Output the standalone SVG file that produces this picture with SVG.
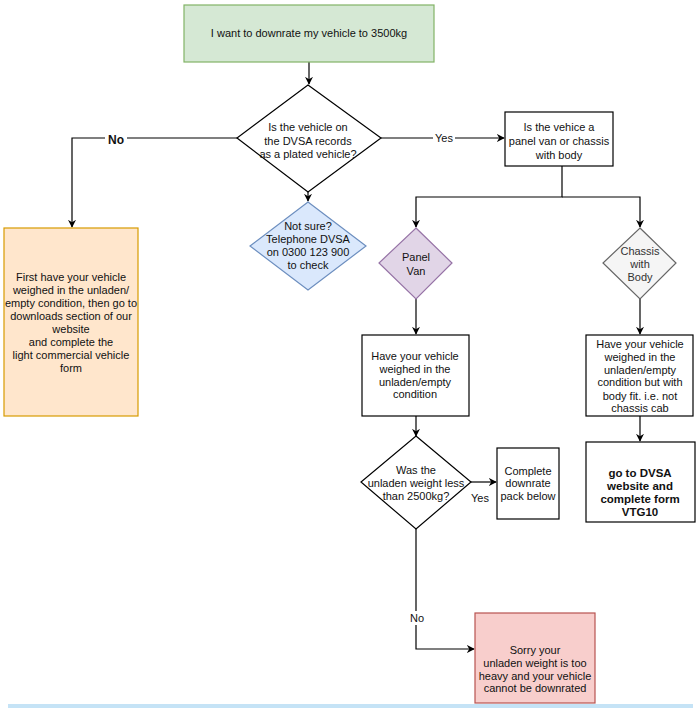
<svg xmlns="http://www.w3.org/2000/svg" width="698" height="709" viewBox="0 0 698 709">
<defs>
<marker id="ah" viewBox="0 0 10 10" refX="9" refY="5" markerWidth="8" markerHeight="8" markerUnits="userSpaceOnUse" orient="auto">
<path d="M0,0 L10,5 L0,10 L3,5 Z" fill="#000"/>
</marker>
<style>
text{font-family:"Liberation Sans",Arial,sans-serif;font-size:11px;fill:#111;text-anchor:middle}
.b{font-weight:bold;font-size:11.5px}
.c{stroke:#000;stroke-width:1.2;fill:none}
.w{fill:#fff;stroke:#000;stroke-width:1.2}
</style>
</defs>
<rect width="698" height="709" fill="#fff"/>
<g id="connectors">
<path class="c" d="M309,62 V84" marker-end="url(#ah)"/>
<path class="c" d="M237,138 H72 V227" marker-end="url(#ah)"/>
<path class="c" d="M381,138 H504" marker-end="url(#ah)"/>
<path class="c" d="M308,192 V201" marker-end="url(#ah)"/>
<path class="c" d="M562,166 V197 H416 V227" marker-end="url(#ah)"/>
<path class="c" d="M562,197 H640 V227" marker-end="url(#ah)"/>
<path class="c" d="M416,299 V334" marker-end="url(#ah)"/>
<path class="c" d="M640,299 V334" marker-end="url(#ah)"/>
<path class="c" d="M416,416 V436" marker-end="url(#ah)"/>
<path class="c" d="M640,416 V441" marker-end="url(#ah)"/>
<path class="c" d="M471,482 H496" marker-end="url(#ah)"/>
<path class="c" d="M416,529 V649 H474" marker-end="url(#ah)"/>
<rect x="105" y="133" width="22" height="14" fill="#fff"/>
<text x="116" y="144" style="font-weight:bold;font-size:12px">No</text>
<rect x="433" y="131" width="22" height="13" fill="#fff"/>
<text x="444" y="142">Yes</text>
<text x="480" y="502">Yes</text>
<rect x="408" y="611" width="18" height="14" fill="#fff"/>
<text x="417" y="622">No</text>
</g>
<g id="start">
<rect x="184" y="5" width="250" height="57" fill="#d5e8d4" stroke="#82b366" stroke-width="1.2"/>
<text x="309" y="37">I want to downrate my vehicle to 3500kg</text>
</g>
<g id="q-plated">
<path class="w" d="M308,85 L381,138 L308,192 L237,138 Z"/>
<text x="308" y="131">Is the vehicle on</text>
<text x="308" y="145">the DVSA records</text>
<text x="308" y="158">as a plated vehicle?</text>
</g>
<g id="q-type">
<rect class="w" x="505" y="112" width="108" height="54"/>
<text x="559" y="131">Is the vehice a</text>
<text x="559" y="145">panel van or chassis</text>
<text x="559" y="159">with body</text>
</g>
<g id="not-sure">
<path d="M308,202 L366,246 L308,290 L250,246 Z" fill="#dae8fc" stroke="#6c8ebf" stroke-width="1.2"/>
<text x="308" y="230">Not sure?</text>
<text x="308" y="243">Telephone DVSA</text>
<text x="308" y="256">on 0300 123 900</text>
<text x="308" y="269">to check</text>
</g>
<g id="no-plated">
<rect x="4" y="228" width="134" height="188" fill="#ffe6cc" stroke="#d79b00" stroke-width="1.2"/>
<text x="71" y="281">First have your vehicle</text>
<text x="71" y="294">weighed in the unladen/</text>
<text x="71" y="307">empty condition, then go to</text>
<text x="71" y="320">downloads section of our</text>
<text x="71" y="333">website</text>
<text x="71" y="346">and complete the</text>
<text x="71" y="359">light commercial vehicle</text>
<text x="71" y="372">form</text>
</g>
<g id="panel-van">
<path d="M416,228 L452,263 L416,299 L379,263 Z" fill="#e1d5e7" stroke="#9673a6" stroke-width="1.2"/>
<text x="416" y="261">Panel</text>
<text x="416" y="275">Van</text>
</g>
<g id="chassis">
<path d="M640,228 L676,263 L640,299 L603,263 Z" fill="#f5f5f5" stroke="#666666" stroke-width="1.2"/>
<text x="640" y="255" style="fill:#333">Chassis</text>
<text x="640" y="268" style="fill:#333">with</text>
<text x="640" y="281" style="fill:#333">Body</text>
</g>
<g id="weigh-van">
<rect class="w" x="362" y="335" width="107" height="81"/>
<text x="415" y="360">Have your vehicle</text>
<text x="415" y="373">weighed in the</text>
<text x="415" y="386">unladen/empty</text>
<text x="415" y="398">condition</text>
</g>
<g id="weigh-chassis">
<rect class="w" x="586" y="335" width="107" height="81"/>
<text x="640" y="348">Have your vehicle</text>
<text x="640" y="361">weighed in the</text>
<text x="640" y="374">unladen/empty</text>
<text x="640" y="386">condition but with</text>
<text x="640" y="400">body fit. i.e. not</text>
<text x="640" y="412">chassis cab</text>
</g>
<g id="q-weight">
<path class="w" d="M416,436 L471,482 L416,529 L361,482 Z"/>
<text x="416" y="474">Was the</text>
<text x="416" y="487">unladen weight less</text>
<text x="416" y="500">than 2500kg?</text>
</g>
<g id="complete-pack">
<rect class="w" x="497" y="448" width="62" height="71"/>
<text x="528" y="475">Complete</text>
<text x="528" y="487">downrate</text>
<text x="528" y="500">pack below</text>
</g>
<g id="vtg10">
<rect class="w" x="586" y="442" width="109" height="80"/>
<text class="b" x="640" y="477">go to DVSA</text>
<text class="b" x="640" y="490">website and</text>
<text class="b" x="640" y="503">complete form</text>
<text class="b" x="640" y="516">VTG10</text>
</g>
<g id="too-heavy">
<rect x="475" y="613" width="120" height="90" fill="#f8cecc" stroke="#b85450" stroke-width="1.2"/>
<text x="535" y="654">Sorry your</text>
<text x="535" y="667">unladen weight is too</text>
<text x="535" y="680">heavy and your vehicle</text>
<text x="535" y="692">cannot be downrated</text>
</g>
<rect x="8" y="704" width="685" height="4" fill="#c5e3f6"/>
</svg>
